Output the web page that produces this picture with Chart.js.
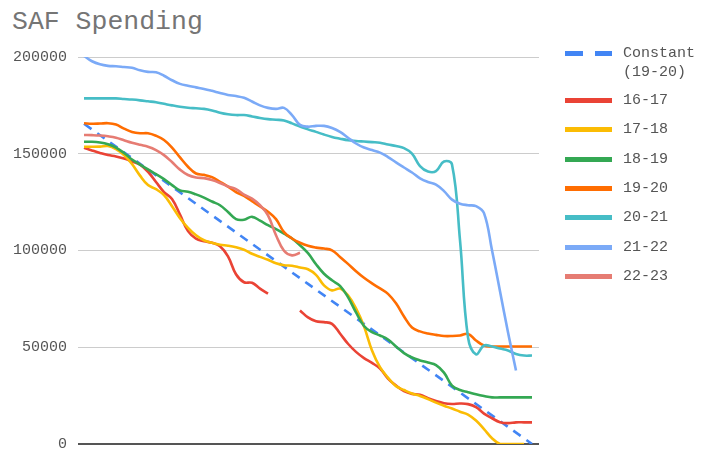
<!DOCTYPE html>
<html>
<head>
<meta charset="utf-8">
<script src="https://cdn.jsdelivr.net/npm/chart.js@4/dist/chart.umd.min.js"></script>
<style>
  body { margin: 0; background: #fff; width: 701px; height: 451px; overflow: hidden; position: relative; font-family: "Liberation Mono", monospace; }
  #title { position: absolute; left: 12px; top: 9px; font-size: 26.5px; line-height: 26px; color: #757575; }
  #wrap { position: absolute; left: 0; top: 0; width: 701px; height: 464px; }
  #legend { position: absolute; left: 565px; top: 0; }
  .item { position: absolute; left: 0; display: flex; align-items: flex-start; font-size: 15px; line-height: 19px; color: #555; white-space: pre; }
  .item svg { margin-right: 11px; margin-top: 7px; }
</style>
</head>
<body>
<div id="title">SAF Spending</div>
<div id="wrap"><canvas id="chart" width="701" height="464"></canvas></div>
<div id="legend"></div>

<script>
const weeks = [1, 2, 3, 4, 5, 6, 7, 8, 9, 10, 11, 12, 13, 14, 15, 16, 17, 18, 19, 20,
  21, 22, 23, 24, 25, 26, 27, 28, 29, 30, 31, 32, 33, 34, 35, 36, 37, 38, 39, 40,
  41, 42, 43, 44, 45, 46, 47, 48, 49, 50, 51, 52, 53, 54, 55, 56, 57];

const yTicks = [0, 50000, 100000, 150000, 200000];

// straight budget line, start and end only
const constStart = 165500;
const constEnd = 0;

const s1617 = [153100, 151700, 150400, 149300, 148600, 147500, 146000, 144400, 140700, 135400,
  130200, 126600, 118500, 110000, 106100, 104800, 104000, 102200, 97000, 87700,
  83600, 83300, 80300, 77700, null, null, null, 69000, 65400, 63400,
  63000, 62100, 57100, 51800, 47600, 44400, 41900, 39000, 33800, 30200,
  27300, 25900, 25500, 23700, 22200, 21100, 20700, 20900, 20600, 19100,
  15700, 13300, 11300, 10800, 11200, 11200, 11200];

const s1718 = [153600, 153600, 153700, 154000, 152400, 149300, 144700, 138700, 133800, 131700,
  128600, 122900, 116700, 111700, 107900, 105300, 104000, 103000, 102500, 101700,
  100400, 98300, 96700, 95200, 93400, 92400, 92100, 91200, 90300, 87400,
  82000, 79400, 80300, 76800, 70100, 60800, 48300, 39700, 34300, 29900,
  27900, 26100, 24800, 23200, 21400, 19800, 18300, 16700, 15200, 12100,
  7700, 3000, 0, 0, 0, 0, null];

const s1819 = [156200, 156200, 155800, 154900, 153200, 150400, 147000, 144400, 141900, 139500,
  136900, 133800, 131000, 130400, 129000, 127300, 125300, 123400, 119900, 116200,
  115900, 117400, 115400, 113100, 111000, 108700, 106200, 102700, 98600, 92900,
  88000, 84600, 81700, 75900, 68000, 61000, 57800, 56100, 54000, 50400,
  47000, 44700, 43200, 42100, 40800, 36900, 30200, 27900, 26800, 25700,
  24800, 24100, 24100, 24100, 24100, 24100, 24100];

const s1920 = [165800, 165500, 165600, 165800, 165100, 163000, 161300, 160600, 160600, 159300,
  157100, 153200, 148100, 143300, 139800, 139100, 137900, 135500, 133000, 130200,
  128200, 125500, 122800, 120000, 116200, 109500, 106200, 104000, 102400, 101500,
  101000, 100100, 96700, 93100, 89300, 85900, 83000, 80400, 77600, 72700,
  65900, 60200, 58200, 57100, 56400, 55800, 55800, 56100, 56900, 53500,
  50900, 50400, 50400, 50400, 50400, 50400, 50400];

const s2021 = [178600, 178600, 178600, 178600, 178600, 178300, 178000, 177600, 177100, 176600,
  175800, 175000, 174300, 173800, 173500, 173200, 172400, 171200, 170400, 170000,
  170000, 169300, 168500, 167900, 167600, 167200, 165700, 164100, 162600, 161300,
  159900, 158700, 157800, 157000, 156600, 156300, 156000, 155700, 154800, 154000,
  152900, 150100, 143600, 140800, 141000, 146000, 144500, 105300, 55100, 46300,
  50900, 50400, 49300, 48300, 46500, 45700, 45700];

const s2122 = [200500, 197800, 196200, 195400, 195200, 194800, 194400, 193100, 192300, 192100,
  190300, 188000, 186100, 185100, 184300, 183500, 182500, 181400, 180400, 179800,
  178900, 177000, 175000, 173700, 173200, 173700, 170000, 164900, 164000, 164400,
  164400, 163300, 161300, 158300, 155300, 153200, 151900, 150600, 148300, 145500,
  142900, 140300, 137300, 135400, 134100, 130700, 126300, 124200, 123400, 122900,
  119300, 100100, 79000, 57700, 38000, null, null];

const s2223 = [159700, 159600, 159400, 159000, 158300, 157000, 155700, 154600, 153600, 151900,
  149300, 145700, 141800, 139000, 137700, 137400, 136400, 134900, 133100, 131700,
  128900, 126800, 123400, 118200, 107900, 99900, 97500, 98800];

const series = [
  { name: 'Constant\n(19-20)', color: '#4285F4', dash: true,
    points: [{ x: weeks[0], y: constStart }, { x: weeks[weeks.length - 1], y: constEnd }] },
  { name: '16-17', color: '#EA4335', values: s1617 },
  { name: '17-18', color: '#FBBC04', values: s1718 },
  { name: '18-19', color: '#34A853', values: s1819 },
  { name: '19-20', color: '#FF6D01', values: s1920 },
  { name: '20-21', color: '#46BDC6', values: s2021 },
  { name: '21-22', color: '#7BAAF7', values: s2122 },
  { name: '22-23', color: '#E67C73', values: s2223 }
];

const datasets = series.map((s, i) => ({
  label: s.name,
  data: s.points || s.values.map((v, k) => ({ x: weeks[k], y: v })),
  borderColor: s.color,
  backgroundColor: s.color,
  borderWidth: 2.6,
  borderDash: s.dash ? [9, 7] : [],
  pointRadius: 0,
  tension: 0.4,
  spanGaps: !!s.dash,
  order: series.length - i
}));

new Chart(document.getElementById('chart'), {
  type: 'line',
  data: { datasets },
  options: {
    responsive: false,
    animation: false,
    layout: { autoPadding: false, padding: { top: 57, bottom: 8, left: 0, right: 162 } },
    plugins: { legend: { display: false }, tooltip: { enabled: false }, title: { display: false } },
    scales: {
      x: {
        type: 'linear',
        display: false,
        min: weeks[0] - 0.75,
        max: weeks[weeks.length - 1] + 0.875
      },
      y: {
        min: 0,
        max: 200000,
        afterFit: (s) => { s.width = 78; },
        afterBuildTicks: (s) => { s.ticks = yTicks.map(v => ({ value: v })); },
        border: { display: false },
        grid: {
          drawTicks: false,
          color: (ctx) => ctx.tick && ctx.tick.value === 0 ? '#555' : '#cccccc',
          lineWidth: (ctx) => ctx.tick && ctx.tick.value === 0 ? 2 : 1
        },
        ticks: {
          padding: 11,
          color: '#555',
          font: { family: 'Liberation Mono', size: 15 },
          callback: (v) => String(v)
        }
      }
    }
  }
});

// legend on the right
const legendEl = document.getElementById('legend');
const legendTops = [44, 91, 120.3, 149.7, 179, 208.3, 237.7, 267];
series.forEach((s, i) => {
  const item = document.createElement('div');
  item.className = 'item';
  item.style.top = legendTops[i] + 'px';
  const dash = s.dash ? 'stroke-dasharray="18 12"' : '';
  item.innerHTML = `<svg width="47" height="5"><line x1="0" y1="2.5" x2="47" y2="2.5" stroke="${s.color}" stroke-width="5" ${dash}/></svg>`;
  const txt = document.createElement('span');
  txt.textContent = s.name;
  item.appendChild(txt);
  legendEl.appendChild(item);
});
</script>
</body>
</html>
